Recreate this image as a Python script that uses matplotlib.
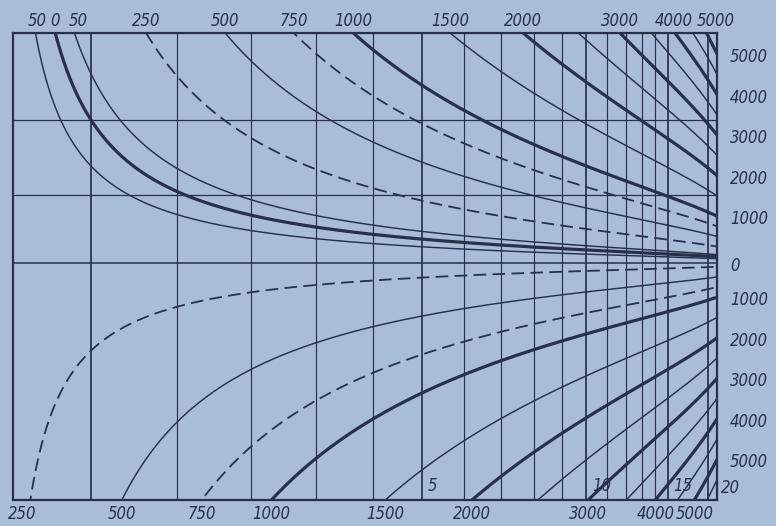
import numpy as np
import matplotlib
matplotlib.use("Agg")
import matplotlib.pyplot as plt
from matplotlib import font_manager as fm

# ---------------- data ----------------
# family parameter of each curve (upper family: labelled on the top edge,
# lower family: labelled on the bottom edge)
upper_values = [-50, 0, 50, 250, 500, 750, 1000, 1500, 2000, 2500, 3000, 3500, 4000, 4500, 5000]
upper_styles = ["thin", "thick", "thin", "dash", "thin", "dash", "thick", "thin",
                "thick", "thin", "thick", "thin", "thick", "thin", "thick"]
lower_values = [250, 500, 750, 1000, 1500, 2000, 2500, 3000, 3500, 4000, 4500, 5000, 5500]
lower_styles = ["dash", "thin", "dash", "thick", "thin", "thick", "thin", "thick",
                "thin", "thick", "thin", "thick", "thin"]
top_labels = [-50, 0, 50, 250, 500, 750, 1000, 1500, 2000, 3000, 4000, 5000]
bottom_labels = [250, 500, 750, 1000, 1500, 2000, 3000, 4000, 5000]
right_labels = [5000, 4000, 3000, 2000, 1000, 0, -1000, -2000, -3000, -4000, -5000]
grid_values = list(range(0, 16)) + [20]
grid_major = [0, 5, 10, 15, 20]
grid_labels = [5, 10, 15]
corner_label = "20"
hline_values = [3.44, 1.64]          # (thousands)
x_limits = (-0.80, 21.8)
y_limits = (-5.70, 5.53)             # (thousands)
family_offset = 155.0                # curves: V = (m + offset) / (coef * (x + 1))
family_coef = 45.0
x_scale_rate = 0.14

BG = "#a9bcd8"
INK = "#28304b"


def pick_font():
    """Prefer a narrow / condensed italic face, else a regular italic one."""
    narrow_words = ("narrow", "condensed", "compressed")
    best = None
    for f in fm.fontManager.ttflist:
        nm = f.name.lower()
        fn = f.fname.lower()
        st = str(f.stretch).lower()
        is_narrow = any(w in nm or w in fn or w in st for w in narrow_words)
        if "extra" in fn or "ultra" in fn or "semi" in fn:
            is_narrow = is_narrow and "semi" in fn
        italic = f.style in ("italic", "oblique")
        bold = (isinstance(f.weight, (int, float)) and f.weight >= 600) or str(f.weight) in (
            "bold", "black", "heavy", "semibold", "demibold", "extra bold")
        if bold or "light" in fn or "thin" in fn or "mono" in nm:
            continue
        score = (2 if is_narrow else 0) + (1 if italic else 0)
        if best is None or score > best[0]:
            best = (score, f.fname)
    if best is not None and best[0] >= 2:
        return fm.FontProperties(fname=best[1])
    return fm.FontProperties(family=["Lato", "DejaVu Sans"], style="italic")


FP = pick_font()


def family(x, m):
    return (m + family_offset) / (family_coef * (np.asarray(x) + 1.0))


def x_at(v, m):
    return (m + family_offset) / (family_coef * v) - 1.0


def fwd(x):
    return -np.exp(-x_scale_rate * np.asarray(x, dtype=float))


def inv(p):
    p = np.asarray(p, dtype=float)
    return -np.log(np.clip(-p, 1e-12, None)) / x_scale_rate


W, H = 776, 526
fig = plt.figure(figsize=(W / 100, H / 100), dpi=100)
fig.patch.set_facecolor(BG)
ax = fig.add_axes([13 / W, 26 / H, (717 - 13) / W, (500 - 33) / H])
ax.set_facecolor(BG)
ax.set_xscale("function", functions=(fwd, inv))
ax.set_xlim(*x_limits)
ax.set_ylim(*y_limits)
ax.set_xticks([])
ax.set_yticks([])
for s in ax.spines.values():
    s.set_color(INK)
    s.set_linewidth(1.6)

# font size chosen so that "5000" is about 38 px wide and not over 16 px tall
renderer = fig.canvas.get_renderer()
probe = fig.text(0, 0, "5000", fontproperties=FP, fontsize=20)
bb = probe.get_window_extent(renderer)
probe2 = fig.text(0, 0, "0", fontproperties=FP, fontsize=20)
bb2 = probe2.get_window_extent(renderer)
probe.remove()
probe2.remove()
fs = 20 * 38.0 / bb.width
fs = min(fs, 20 * 21.0 / bb2.height)
FP.set_size(fs)

# grid
for g in grid_values:
    ax.axvline(g, color=INK, lw=1.25 if g in grid_major else 0.85, zorder=1)
for h in hline_values:
    ax.axhline(h, color=INK, lw=0.9, zorder=1)
ax.axhline(0, color=INK, lw=1.1, zorder=1)

# curves
p0, p1 = fwd(x_limits[0]), fwd(x_limits[1])
xs = inv(np.linspace(p0, p1, 3000))
style = {
    "thin": dict(lw=1.05, ls="-"),
    "thick": dict(lw=2.3, ls="-"),
    "dash": dict(lw=1.3, ls=(0, (7, 3.5))),
}
for m, st in zip(upper_values, upper_styles):
    ax.plot(xs, family(xs, m), color=INK, zorder=3, solid_capstyle="butt", **style[st])
for m, st in zip(lower_values, lower_styles):
    ax.plot(xs, family(xs, -m), color=INK, zorder=3, solid_capstyle="butt", **style[st])

tkw = dict(color=INK, fontproperties=FP)

# top labels (the last two are nudged apart so they do not collide)
top_nudge = {4000: -1, 5000: 9, 50: 4, -50: 2}
for m in top_labels:
    ax.annotate(f"{abs(m)}", xy=(x_at(y_limits[1], m), y_limits[1]),
                xytext=(top_nudge.get(m, 0), 3), textcoords="offset pixels",
                ha="center", va="bottom", annotation_clip=False, **tkw)
# bottom labels
for m in bottom_labels:
    ax.annotate(f"{m}", xy=(x_at(y_limits[0], -m), y_limits[0]),
                xytext=(-8 if m == bottom_labels[0] else 0, -5), textcoords="offset pixels",
                ha="center", va="top", annotation_clip=False, **tkw)
# right labels at curve ends
for m in right_labels:
    v = 0.0 if m == 0 else family(x_limits[1], m)
    ax.annotate(f"{abs(m)}", xy=(x_limits[1], v), xytext=(13, -3),
                textcoords="offset pixels", ha="left", va="center",
                annotation_clip=False, **tkw)
# grid labels
for g in grid_labels:
    ax.annotate(f"{g}", xy=(g, y_limits[0]), xytext=(6, 5),
                textcoords="offset pixels", ha="left", va="bottom",
                annotation_clip=False, **tkw)
ax.annotate(corner_label, xy=(x_limits[1], y_limits[0]), xytext=(4, 3),
            textcoords="offset pixels", ha="left", va="bottom",
            annotation_clip=False, **tkw)

fig.savefig("out.png", dpi=100, facecolor=BG)
